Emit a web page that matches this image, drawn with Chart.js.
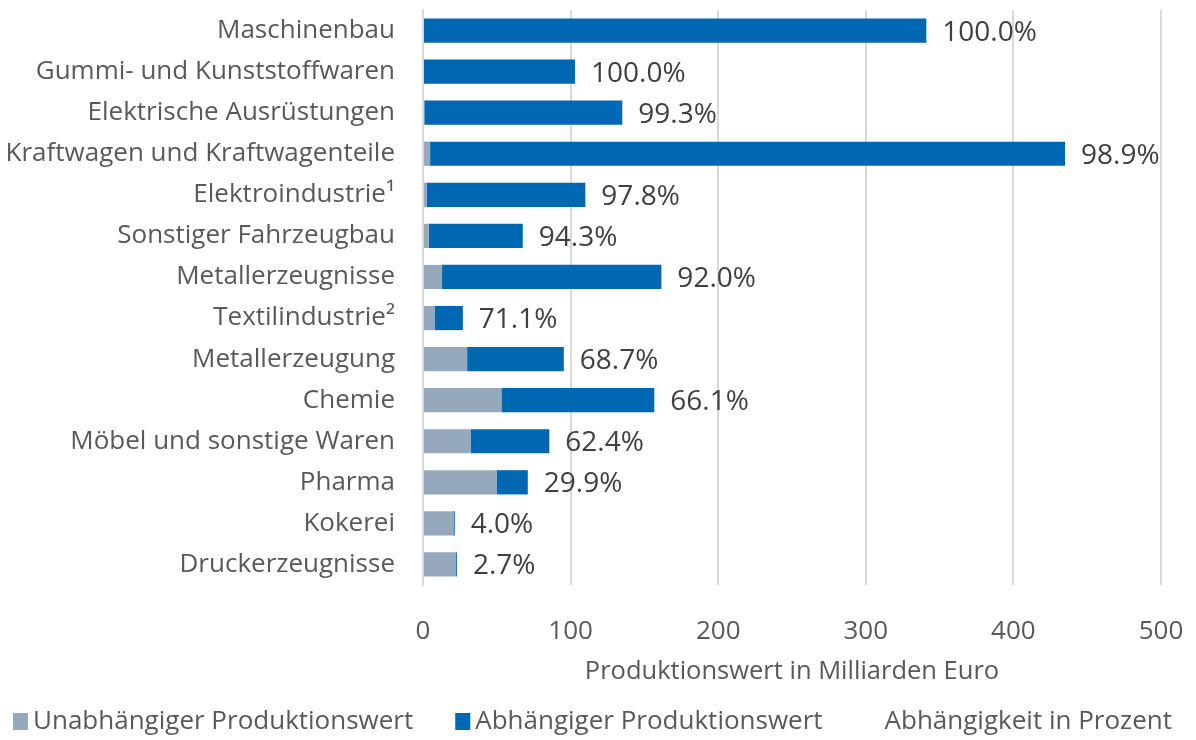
<!DOCTYPE html>
<html>
<head>
<meta charset="utf-8">
<script src="https://cdn.jsdelivr.net/npm/chart.js@4"></script>
<style>
  html, body { margin: 0; padding: 0; background: #fff; }
  #wrap { width: 1196px; height: 740px; }
</style>
</head>
<body>
<div id="wrap"><canvas id="myChart" width="1196" height="740"></canvas></div>
<script>
// Data

const categories = [
    "Maschinenbau",
    "Gummi- und Kunststoffwaren",
    "Elektrische Ausrüstungen",
    "Kraftwagen und Kraftwagenteile",
    "Elektroindustrie¹",
    "Sonstiger Fahrzeugbau",
    "Metallerzeugnisse",
    "Textilindustrie²",
    "Metallerzeugung",
    "Chemie",
    "Möbel und sonstige Waren",
    "Pharma",
    "Kokerei",
    "Druckerzeugnisse"
];

// Produktionswert in Mrd. Euro
const unabhaengig = [0, 0, 0.9, 4.8, 2.4, 3.9, 12.9, 7.8, 29.9, 53.1, 32.2, 49.8, 20.6, 22.4];
const abhaengig = [341, 103, 134.1, 430.2, 107.6, 63.7, 148.6, 19.2, 65.5, 103.6, 53.4, 21.2, 0.9, 0.6];
const prozent = [100.0, 100.0, 99.3, 98.9, 97.8, 94.3, 92.0, 71.1, 68.7, 66.1, 62.4, 29.9, 4.0, 2.7];

const xTicks = [0, 100, 200, 300, 400, 500];

const FONT = "'Open Sans', 'Noto Sans', sans-serif";
const TEXT = "#595959";

// percent labels after each stacked bar
const percentLabels = {
    id: "percentLabels",
    afterDatasetsDraw(chart) {
        const { ctx, scales } = chart;
        ctx.save();
        ctx.font = "28px " + FONT;
        ctx.fillStyle = "#404040";
        ctx.textAlign = "left";
        ctx.textBaseline = "middle";
        categories.forEach((c, i) => {
            const total = unabhaengig[i] + abhaengig[i];
            const x = scales.x.getPixelForValue(total) + 16;
            const y = scales.y.getPixelForValue(i) + 2;
            ctx.fillText(prozent[i].toFixed(1) + "%", x, y);
        });
        ctx.restore();
    }
};

// legend row at the bottom (spacing like the original)
const bottomLegend = {
    id: "bottomLegend",
    afterDraw(chart) {
        const { ctx } = chart;
        const sets = chart.data.datasets;
        const box = 15, gap = 5, between = 42;
        ctx.save();
        ctx.font = "26px " + FONT;
        ctx.textBaseline = "middle";
        ctx.textAlign = "left";
        const widths = sets.map(d => box + gap + ctx.measureText(d.label).width);
        let x = 13;
        const y = 722;
        sets.forEach((d, i) => {
            ctx.fillStyle = d.backgroundColor;
            ctx.fillRect(x, y - 9, box, 17);
            ctx.fillStyle = TEXT;
            ctx.fillText(d.label, x + box + gap, y);
            x += widths[i] + between;
        });
        ctx.restore();
    }
};

const data = {
    labels: categories,
    datasets: [
        {
            label: "Unabhängiger Produktionswert",
            data: unabhaengig,
            backgroundColor: "#95a8bc",
            stack: "s"
        },
        {
            label: "Abhängiger Produktionswert",
            data: abhaengig,
            backgroundColor: "#0067b3",
            stack: "s"
        },
        {
            label: "Abhängigkeit in Prozent",
            data: categories.map(() => null),
            backgroundColor: "rgba(0,0,0,0)",
            stack: "s"
        }
    ]
};

const config = {
    type: "bar",
    data,
    options: {
        indexAxis: "y",
        responsive: false,
        animation: false,
        barPercentage: 0.59,
        categoryPercentage: 1,
        layout: { padding: { top: 10, right: 35, left: 0, bottom: 53 } },
        plugins: {
            tooltip: { enabled: false },
            legend: { display: false }
        },
        scales: {
            x: {
                min: 0,
                max: 500,
                stacked: true,
                afterBuildTicks: (axis) => {
                    axis.ticks = xTicks.map(v => ({ value: v }));
                },
                afterFit: (axis) => {
                    axis.height = 102;
                    axis.paddingTop = 0;
                    axis.paddingBottom = 0;
                    axis.paddingLeft = 0;
                    axis.paddingRight = 0;
                },
                grid: { color: "#d9d9d9", lineWidth: 2, drawTicks: false },
                border: { display: false },
                ticks: {
                    font: { family: FONT, size: 26 },
                    color: TEXT,
                    padding: 31
                },
                title: {
                    display: true,
                    text: "Produktionswert in Milliarden Euro",
                    font: { family: FONT, size: 25.5 },
                    color: TEXT,
                    padding: { top: 10, bottom: 0 }
                }
            },
            y: {
                stacked: true,
                grid: { display: false, drawTicks: false },
                border: { display: true, color: "#d9d9d9", width: 2 },
                ticks: {
                    font: { family: FONT, size: 26 },
                    color: TEXT,
                    padding: 28
                },
                afterFit: (axis) => {
                    axis.width = 423;
                    axis.paddingTop = 0;
                    axis.paddingBottom = 0;
                }
            }
        }
    },
    plugins: [percentLabels, bottomLegend]
};

const myChart = new Chart(document.getElementById("myChart"), config);
</script>
</body>
</html>
